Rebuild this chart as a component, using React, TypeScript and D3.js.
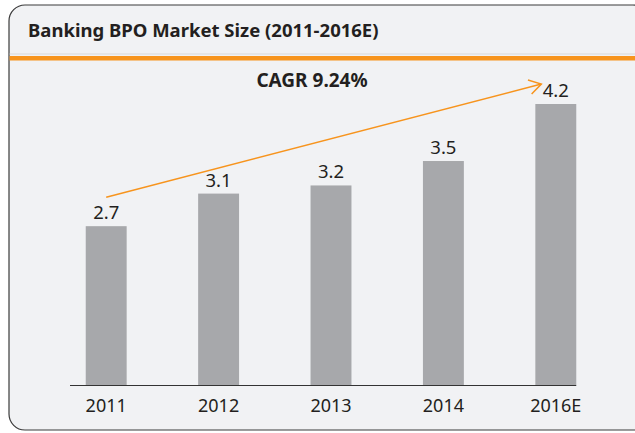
import React from "react";
import * as d3 from "d3";

const years = ["2011", "2012", "2013", "2014", "2016E"];
const marketSize = [2.7, 3.1, 3.2, 3.5, 4.2];
const valueLabels = ["2.7", "3.1", "3.2", "3.5", "4.2"];
const title = "Banking BPO Market Size (2011-2016E)";
const cagrLabel = "CAGR 9.24%";

const W = 635;
const H = 433;
const baseY = 385;
const font = "'Noto Sans', sans-serif";

const App = () => {
  const x = d3
    .scaleBand()
    .domain(years)
    .range([50, 612])
    .paddingInner(0.636)
    .paddingOuter(0.318);

  const y = d3.scaleLinear().domain([0.75, 4.2]).range([baseY, 104]);

  const first = years[0];
  const last = years[years.length - 1];
  const x1 = x(first) + x.bandwidth() / 2;
  const y1 = y(marketSize[0]) - 29;
  const x2 = x(last) + 6;
  const y2 = y(marketSize[marketSize.length - 1]) - 20;
  const ang = Math.atan2(y2 - y1, x2 - x1);
  const head = 14;
  const spread = 0.55;
  const hx1 = x2 - head * Math.cos(ang - spread);
  const hy1 = y2 - head * Math.sin(ang - spread);
  const hx2 = x2 - head * Math.cos(ang + spread);
  const hy2 = y2 - head * Math.sin(ang + spread);

  return (
    <svg
      width={W}
      height={H}
      style={{ position: "absolute", left: 0, top: 0 }}
    >
      <rect width={W} height={H} fill="#fff" />
      <rect
        x={9}
        y={5}
        width={640}
        height={425}
        rx={16}
        fill="#f1f2f4"
        stroke="#3a3a3a"
        strokeWidth={1.2}
      />
      <text
        x={28}
        y={37}
        fontFamily={font}
        fontWeight="bold"
        fontSize={18.5}
        fill="#231f20"
      >
        {title}
      </text>
      <line x1={9.6} x2={W} y1={54} y2={54} stroke="#d9d9d9" strokeWidth={1} />
      <rect x={9.6} y={56} width={W} height={4.5} fill="#f7941d" />

      <text
        x={312}
        y={87}
        textAnchor="middle"
        fontFamily={font}
        fontWeight="bold"
        fontSize={19}
        fill="#231f20"
      >
        {cagrLabel}
      </text>

      {marketSize.map((v, i) => (
        <rect
          key={years[i]}
          x={x(years[i])}
          y={y(v)}
          width={x.bandwidth()}
          height={baseY - y(v)}
          fill="#a7a8ab"
        />
      ))}

      <line
        x1={70}
        x2={x(last) + x.bandwidth()}
        y1={baseY + 0.5}
        y2={baseY + 0.5}
        stroke="#333"
        strokeWidth={1.2}
      />

      {marketSize.map((v, i) => (
        <text
          key={"v" + years[i]}
          x={x(years[i]) + x.bandwidth() / 2}
          y={y(v) - 7}
          textAnchor="middle"
          fontFamily={font}
          fontSize={18.5}
          fill="#231f20"
        >
          {valueLabels[i]}
        </text>
      ))}

      {years.map((yr) => (
        <text
          key={"t" + yr}
          x={x(yr) + x.bandwidth() / 2}
          y={412}
          textAnchor="middle"
          fontFamily={font}
          fontSize={18}
          fill="#231f20"
        >
          {yr}
        </text>
      ))}

      <g stroke="#f7941d" strokeWidth={1.5} fill="none">
        <line x1={x1} y1={y1} x2={x2} y2={y2} />
        <polyline points={`${hx1},${hy1} ${x2},${y2} ${hx2},${hy2}`} />
      </g>
    </svg>
  );
};

export default App;
